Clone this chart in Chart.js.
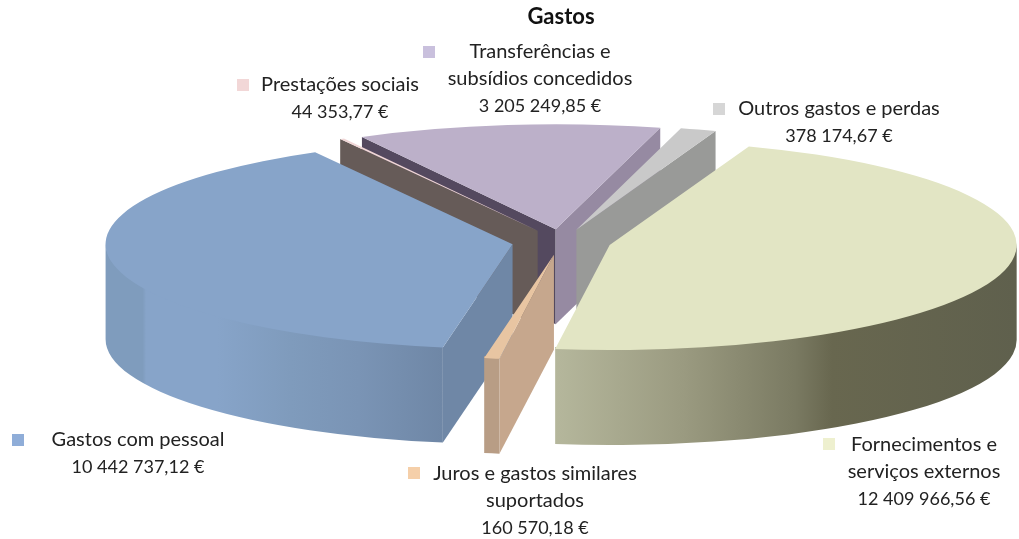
<!DOCTYPE html>
<html>
<head>
<meta charset="utf-8">
<title>Gastos</title>
<script src="https://cdn.jsdelivr.net/npm/chart.js@4/dist/chart.umd.min.js"></script>
<style>
  html, body { margin: 0; padding: 0; background: #fff; }
  canvas { display: block; }
</style>
</head>
<body>
<canvas id="gastos" width="1019" height="539"></canvas>
<script>
// --- DATA --- //
const categories = [
  ['Fornecimentos e', 'serviços externos'],
  ['Juros e gastos similares', 'suportados'],
  ['Gastos com pessoal'],
  ['Prestações sociais'],
  ['Transferências e', 'subsídios concedidos'],
  ['Outros gastos e perdas']
];
const values = [12409966.56, 160570.18, 10442737.12, 44353.77, 3205249.85, 378174.67];

// --- STYLE --- //
const topColors = ['#e2e5c4', '#e8c5a2', '#87a4c9', '#f0d6d6', '#bcb0c9', '#c9c9c9'];
const keyColors = ['#eef0cf', '#f5cfa9', '#8fadd8', '#f2d7d7', '#c9c0dd', '#d6d6d6'];
const startWall = ['#5f604d', '#c6a78d', '#6f87a6', '#665b58', '#54495f', '#999a98'];
const endWall = ['#5f604d', '#c6a78d', '#6f87a6', '#665b58', '#968aa2', '#999a98'];
const outerWall = [
  [[0, '#b5b79c'], [0.28, '#9a9a80'], [0.52, '#7a7a62'], [0.6, '#68674f'], [1, '#5f604d']],
  [[0, '#b89d85'], [1, '#b89d85']],
  [[0, '#7f9cbd'], [0.11, '#7f9cbd'], [0.12, '#87a4c9'], [0.33, '#87a4c9'], [0.55, '#7f9bbc'], [0.75, '#7a94b5'], [1, '#6f87a6']],
  [[0, '#665b58'], [1, '#665b58']],
  [[0, '#968aa2'], [1, '#968aa2']],
  [[0, '#999a98'], [1, '#999a98']]
];

// --- LAYOUT --- //
const center = { x: 561.5, y: 242 };
const radius = 407;
const tilt = 0.258;
const depth = 95;
const explode = 49.6;
const lineGap = 27;
const labelFont = '20px Lato';
const valueFont = '18px Lato';

// back slices first, the grey wedge sits over the purple one
const paintOrder = [4, 5, 3, 2, 1, 0];

// text centre x, first line y, key square x and y
const labelSpots = [
  { x: 924, y: 445, keyX: 823, keyY: 438 },
  { x: 535, y: 474, keyX: 408, keyY: 467 },
  { x: 138, y: 440, keyX: 12, keyY: 434 },
  { x: 340, y: 85, keyX: 237, keyY: 79 },
  { x: 540, y: 52, keyX: 423, keyY: 46 },
  { x: 839, y: 109, keyX: 713, keyY: 103 }
];

function formatEuro(value) {
  const [whole, cents] = value.toFixed(2).split('.');
  return whole.replace(/\B(?=(\d{3})+$)/g, ' ') + ',' + cents + ' €';
}

// radial cut face from the apex out to the rim at one angle
function cutFace(ctx, cx, cy, angle, color) {
  const px = cx + Math.cos(angle) * radius;
  const py = cy + Math.sin(angle) * radius * tilt;
  ctx.fillStyle = color;
  ctx.beginPath();
  ctx.moveTo(cx, cy);
  ctx.lineTo(px, py);
  ctx.lineTo(px, py + depth);
  ctx.lineTo(cx, cy + depth);
  ctx.closePath();
  ctx.fill();
}

// rim wall, only the part of the arc that faces the front
// it starts a little under the top face so no white fringe shows along the edge
function rimWall(ctx, cx, cy, from, to, stops) {
  const a = Math.max(from, 0);
  const b = Math.min(to, Math.PI);
  if (b <= a) return;
  const xs = [a, b].map(t => cx + Math.cos(t) * radius);
  const fill = ctx.createLinearGradient(Math.min(...xs), 0, Math.max(...xs), 0);
  stops.forEach(([at, color]) => fill.addColorStop(at, color));
  ctx.fillStyle = fill;
  ctx.beginPath();
  ctx.ellipse(cx, cy - 2, radius, radius * tilt, 0, a, b);
  ctx.ellipse(cx, cy + depth, radius, radius * tilt, 0, b, a, true);
  ctx.closePath();
  ctx.fill();
}

// --- 3D PIE --- //
// arcs keep the angles chart.js worked out, they are only moved, squashed and extruded here
const pie3d = {
  id: 'pie3d',
  beforeDatasetDraw(chart, args) {
    const { ctx } = chart;
    const arcs = chart.getDatasetMeta(args.index).data;

    paintOrder.forEach(i => {
      const arc = arcs[i];
      const mid = (arc.startAngle + arc.endAngle) / 2;
      const cx = center.x + Math.cos(mid) * explode;
      const cy = center.y + Math.sin(mid) * explode * tilt;

      if (Math.cos(arc.startAngle) < 0) cutFace(ctx, cx, cy, arc.startAngle, startWall[i]);
      if (Math.cos(arc.endAngle) > 0) cutFace(ctx, cx, cy, arc.endAngle, endWall[i]);
      rimWall(ctx, cx, cy, arc.startAngle, arc.endAngle, outerWall[i]);

      ctx.save();
      ctx.translate(cx, cy);
      ctx.scale(1, tilt);
      ctx.translate(-arc.x, -arc.y);
      arc.draw(ctx);
      ctx.restore();
    });
    return false;
  },
  afterDraw(chart) {
    const { ctx } = chart;
    ctx.save();
    ctx.textAlign = 'center';
    ctx.textBaseline = 'middle';
    categories.forEach((lines, i) => {
      const spot = labelSpots[i];
      ctx.fillStyle = keyColors[i];
      ctx.fillRect(spot.keyX, spot.keyY, 12, 12);
      ctx.fillStyle = '#222';
      ctx.font = labelFont;
      lines.forEach((line, n) => ctx.fillText(line, spot.x, spot.y + n * lineGap));
      ctx.font = valueFont;
      ctx.fillText(formatEuro(values[i]), spot.x, spot.y + lines.length * lineGap);
    });
    ctx.restore();
  }
};

new Chart(document.getElementById('gastos'), {
  type: 'pie',
  data: {
    labels: categories,
    datasets: [{
      data: values,
      backgroundColor: topColors,
      borderWidth: 0,
      clip: false
    }]
  },
  options: {
    responsive: false,
    animation: false,
    radius: radius,
    rotation: 20,
    layout: { padding: { left: 103 } },
    plugins: {
      legend: { display: false },
      tooltip: { enabled: false },
      title: {
        display: true,
        fullSize: false,
        text: 'Gastos',
        color: '#111',
        font: { family: 'Lato', size: 22, weight: 'bold' },
        padding: { top: 4, bottom: 5 }
      }
    }
  },
  plugins: [pie3d]
});
</script>
</body>
</html>
